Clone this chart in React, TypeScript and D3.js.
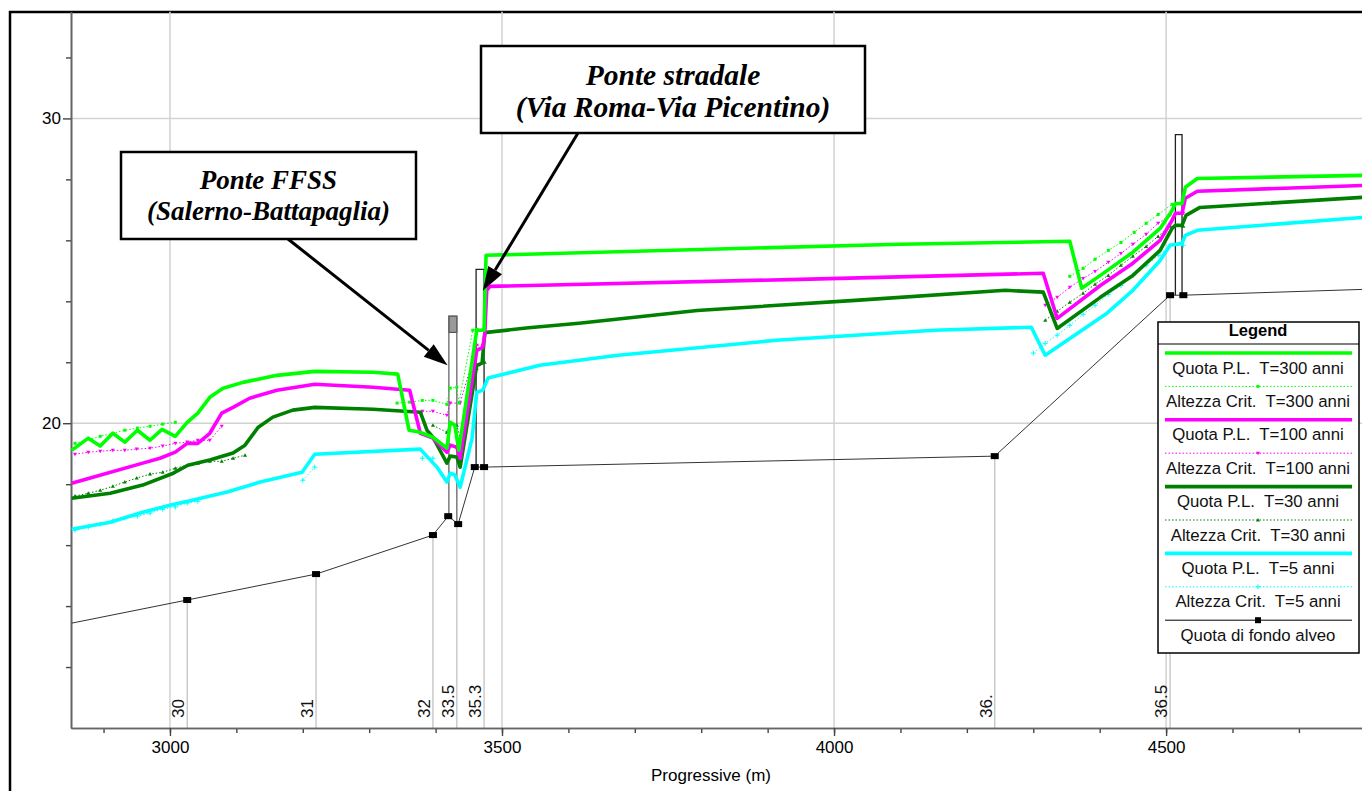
import React, { useEffect, useRef } from 'react'
import * as d3 from 'd3'

type P = [number, number]

const W = 1362
const H = 791

// Quota P.L. (water surface) per return period: [progressive m, quota m]
const quota300: P[] = [
  [2852, 19.11], [2877, 19.51], [2895, 19.25], [2914, 19.67], [2932, 19.38], [2951, 19.77], [2970, 19.44],
  [2988, 19.8], [3008, 19.57], [3026, 20.03], [3042, 20.33], [3060, 20.85], [3080, 21.15], [3110, 21.34],
  [3161, 21.57], [3218, 21.7], [3306, 21.67], [3343, 21.61], [3360, 19.77], [3377, 19.7], [3396, 19.54],
  [3417, 19.18], [3422, 20.03], [3429, 19.93], [3435, 19.11], [3462, 23.05], [3473, 23.05], [3476, 25.51],
  [3798, 25.7], [4099, 25.87], [4355, 25.97], [4373, 24.43], [4401, 24.85], [4450, 25.61], [4491, 26.39],
  [4509, 26.98], [4514, 27.21], [4524, 27.21], [4529, 27.74], [4547, 28.03], [4795, 28.13]
]
const quota100: P[] = [
  [2852, 18.03], [2884, 18.23], [2959, 18.69], [2985, 18.85], [3008, 19.05], [3026, 19.34], [3042, 19.34],
  [3060, 19.67], [3078, 20.33], [3095, 20.52], [3120, 20.82], [3161, 21.08], [3218, 21.28], [3306, 21.18],
  [3361, 21.08], [3377, 19.67], [3396, 19.51], [3417, 19.05], [3422, 19.28], [3432, 19.21], [3437, 18.85],
  [3462, 22.39], [3471, 22.49], [3474, 22.89], [3477, 24.36], [3482, 24.49], [3949, 24.72], [4315, 24.92],
  [4336, 23.44], [4401, 24.52], [4450, 25.25], [4491, 26.0], [4509, 26.66], [4514, 26.89], [4524, 26.89],
  [4529, 27.38], [4547, 27.61], [4795, 27.8]
]
const quota30: P[] = [
  [2852, 17.54], [2910, 17.7], [2959, 17.97], [3005, 18.36], [3027, 18.62], [3060, 18.79], [3095, 19.02],
  [3113, 19.28], [3133, 19.87], [3155, 20.2], [3185, 20.43], [3218, 20.52], [3306, 20.46], [3377, 20.36],
  [3387, 19.77], [3396, 19.54], [3417, 18.69], [3422, 18.92], [3432, 18.89], [3437, 18.56], [3462, 21.9],
  [3470, 21.97], [3474, 22.95], [3477, 22.98], [3540, 23.13], [3616, 23.28], [3794, 23.7], [4032, 24.03], [4258, 24.36],
  [4315, 24.3], [4336, 23.11], [4401, 24.13], [4450, 24.85], [4491, 25.67], [4509, 26.39], [4514, 26.49],
  [4524, 26.49], [4530, 26.82], [4551, 27.08], [4795, 27.41]
]
const quota5: P[] = [
  [2852, 16.52], [2910, 16.75], [2959, 17.08], [3000, 17.31], [3035, 17.48], [3086, 17.74], [3136, 18.07],
  [3199, 18.39], [3218, 18.98], [3377, 19.15], [3402, 18.56], [3417, 18.07], [3422, 18.36], [3429, 18.3],
  [3437, 17.9], [3455, 19.51], [3462, 21.02], [3471, 21.08], [3479, 21.48], [3557, 21.9], [3675, 22.23],
  [3913, 22.72], [4151, 23.05], [4297, 23.15], [4318, 22.23], [4411, 23.61], [4450, 24.36], [4491, 25.34],
  [4506, 25.84], [4524, 25.9], [4529, 26.16], [4547, 26.33], [4795, 26.75]
]

// Altezza Crit. (critical depth), only where computed - one array per reach
const crit300: P[][] = [
  [[2857, 19.34], [2895, 19.57], [2914, 19.67], [2932, 19.77], [2951, 19.84], [2970, 19.9], [2989, 19.97], [3008, 20.03]],
  [[3342, 20.66], [3361, 20.69], [3380, 20.75], [3396, 20.75], [3417, 20.62], [3422, 21.15], [3432, 21.18], [3435, 20.66], [3456, 23.05], [3462, 23.08], [3473, 23.08]],
  [[4355, 24.82], [4375, 25.08], [4393, 25.38], [4413, 25.67], [4432, 25.93], [4452, 26.26], [4470, 26.56], [4488, 26.85], [4509, 27.18], [4526, 27.21]]
]
const crit100: P[][] = [
  [[2857, 18.98], [2877, 19.05], [2895, 19.08], [2914, 19.11], [2932, 19.11], [2950, 19.15], [2970, 19.18], [2989, 19.25], [3008, 19.34], [3026, 19.38], [3042, 19.44], [3060, 19.44], [3078, 19.9]],
  [[3380, 20.39], [3396, 20.39], [3417, 20.26], [3422, 20.66], [3437, 20.66], [3462, 22.56], [3471, 22.56]],
  [[4318, 23.87], [4336, 24.13], [4355, 24.46], [4375, 24.75], [4393, 24.98], [4413, 25.28], [4432, 25.57], [4450, 25.87], [4470, 26.2], [4488, 26.56], [4506, 26.82], [4526, 26.89]]
]
const crit30: P[][] = [
  [[2857, 17.61], [2877, 17.7], [2895, 17.8], [2914, 17.93], [2932, 18.07], [2950, 18.2], [2970, 18.33], [2989, 18.39], [3008, 18.52], [3026, 18.62], [3042, 18.69], [3060, 18.75], [3078, 18.75], [3095, 18.85], [3113, 18.95]],
  [[3396, 19.93], [3417, 19.7], [3422, 20.0], [3432, 19.93], [3437, 19.54], [3462, 21.8], [3474, 22.0]],
  [[4318, 23.38], [4336, 23.67], [4355, 23.97], [4375, 24.26], [4393, 24.56], [4413, 24.85], [4432, 25.18], [4450, 25.48], [4470, 25.8], [4488, 26.13], [4506, 26.46], [4526, 26.46]]
]
const crit5: P[][] = [
  [[2857, 16.49], [2877, 16.59], [2895, 16.69], [2914, 16.79], [2932, 16.89], [2951, 16.95], [2970, 17.05], [2989, 17.18], [3008, 17.25], [3026, 17.38], [3042, 17.44]],
  [[3200, 18.13], [3218, 18.56]],
  [[3380, 18.85], [3396, 18.85]],
  [[4300, 22.3], [4318, 22.62], [4336, 22.89], [4355, 23.21], [4375, 23.57], [4393, 23.87], [4413, 24.23], [4432, 24.52], [4450, 24.85], [4470, 25.18], [4489, 25.51], [4506, 25.84], [4526, 25.84]]
]

// Quota di fondo alveo
const fondo: P[] = [
  [2852, 13.44], [3026, 14.2], [3220, 15.05], [3396, 16.33], [3419, 16.95], [3434, 16.69],
  [3459, 18.56], [3473, 18.56], [4242, 18.92], [4506, 24.2], [4526, 24.2], [4795, 24.39]
]

// river stations
const sectionNames = ['30', '31', '32', '33.5', '35.3', '36.', '36.5']
const sectionStations = [3026, 3220, 3396, 3432, 3473, 4242, 4506]

// bridges
const bridgeFrom = [3420, 3461, 4514]
const bridgeTo = [3432, 3473, 4524]
const bridgeTop = [23.51, 25.05, 29.47]
const bridgeDeck = [22.98, 25.05, 29.47]

const xMajor = [3000, 3500, 4000, 4500]
const yMajor = [20, 30]

const legendLabels = [
  'Quota P.L.  T=300 anni', 'Altezza Crit.  T=300 anni',
  'Quota P.L.  T=100 anni', 'Altezza Crit.  T=100 anni',
  'Quota P.L.  T=30 anni', 'Altezza Crit.  T=30 anni',
  'Quota P.L.  T=5 anni', 'Altezza Crit.  T=5 anni',
  'Quota di fondo alveo'
]

const GREEN = '#00ff00'
const MAGENTA = '#ff00ff'
const DKGREEN = '#008000'
const CYAN = '#00ffff'
const SANS = '"Liberation Sans", Arial, sans-serif'
const SERIF = '"Liberation Serif", "Times New Roman", serif'

function App() {
  const ref = useRef<SVGSVGElement>(null)

  useEffect(() => {
    const svg = d3.select(ref.current)
    svg.selectAll('*').remove()

    const x = d3.scaleLinear().domain([2851, 4795]).range([71, 1362])
    const y = d3.scaleLinear().domain([10, 33.5]).range([728, 11.75])
    const yBot = y(10)
    const yTop = y(33.5)

    // outer frame
    svg.append('rect')
      .attr('x', 10).attr('y', 12).attr('width', 1400).attr('height', 820)
      .attr('fill', '#fff').attr('stroke', '#000').attr('stroke-width', 2.5)

    // grid
    const grid = svg.append('g').attr('stroke', '#d2d2d2').attr('stroke-width', 1.5)
    xMajor.forEach(v => grid.append('line').attr('x1', x(v)).attr('x2', x(v)).attr('y1', yTop).attr('y2', yBot))
    yMajor.forEach(v => grid.append('line').attr('x1', x(2851)).attr('x2', W).attr('y1', y(v)).attr('y2', y(v)))

    // bed interpolation for section lines
    const bedAt = (m: number) => {
      const i = d3.bisector((d: P) => d[0]).left(fondo, m)
      if (i <= 0) return fondo[0][1]
      if (i >= fondo.length) return fondo[fondo.length - 1][1]
      const a = fondo[i - 1], b = fondo[i]
      return a[1] + (b[1] - a[1]) * (m - a[0]) / (b[0] - a[0])
    }

    const sec = svg.append('g')
    sectionStations.forEach((m, i) => {
      sec.append('line')
        .attr('x1', x(m)).attr('x2', x(m))
        .attr('y1', y(bedAt(m))).attr('y2', yBot)
        .attr('stroke', '#bdbdbd').attr('stroke-width', 1.2)
      sec.append('text')
        .attr('transform', `translate(${x(m) - 3},${yBot - 10}) rotate(-90)`)
        .attr('font-family', SANS).attr('font-size', 17)
        .attr('fill', '#111')
        .text(sectionNames[i])
    })

    // bridges
    const br = svg.append('g')
    bridgeFrom.forEach((m0, i) => {
      const m1 = bridgeTo[i]
      const x0 = x(m0), x1 = x(m1)
      const yt = y(bridgeTop[i])
      const yd = y(bridgeDeck[i])
      const b0 = y(bedAt(m0)), b1 = y(bedAt(m1))
      if (yd - yt > 1) {
        br.append('rect').attr('x', x0).attr('y', yt).attr('width', x1 - x0).attr('height', yd - yt)
          .attr('fill', '#9a9a9a').attr('stroke', '#555').attr('stroke-width', 1.2)
      }
      br.append('path')
        .attr('d', `M${x0},${b0}V${yt}H${x1}V${b1}`)
        .attr('fill', 'none').attr('stroke', i === 0 ? '#666' : '#222').attr('stroke-width', 1.3)
    })

    // axes
    const xMinor = d3.range(2900, 4800, 100)
    const axX = svg.append('g').attr('transform', `translate(0,${yBot})`)
    axX.call(d3.axisBottom(x).tickValues(xMinor).tickSize(5).tickSizeOuter(0).tickFormat(() => ''))
    axX.append('g').call(d3.axisBottom(x).tickValues(xMajor).tickSize(8).tickSizeOuter(0).tickPadding(5).tickFormat(d3.format('d')))
    axX.selectAll('.domain').attr('stroke', '#666').attr('stroke-width', 1.6)
    axX.selectAll('.tick line').attr('stroke', '#444').attr('stroke-width', 1.4)
    axX.selectAll('text').attr('font-family', SANS).attr('font-size', 17).attr('fill', '#000')

    const yMinor = d3.range(12, 34, 2).filter(v => !yMajor.includes(v))
    const axY = svg.append('g').attr('transform', `translate(${x(2851)},0)`)
    axY.call(d3.axisLeft(y).tickValues(yMinor).tickSize(5).tickSizeOuter(0).tickFormat(() => ''))
    axY.append('g').call(d3.axisLeft(y).tickValues(yMajor).tickSize(8).tickSizeOuter(0).tickPadding(2).tickFormat(d3.format('d')))
    axY.selectAll('.domain').attr('stroke', '#666').attr('stroke-width', 1.6)
    axY.selectAll('.tick line').attr('stroke', '#444').attr('stroke-width', 1.4)
    axY.selectAll('text').attr('font-family', SANS).attr('font-size', 17).attr('fill', '#000')

    svg.append('text')
      .attr('x', 711).attr('y', 781).attr('text-anchor', 'middle')
      .attr('font-family', SANS).attr('font-size', 17).attr('fill', '#000')
      .text('Progressive (m)')

    const line = d3.line<P>().x(d => x(d[0])).y(d => y(d[1]))

    // bed profile
    svg.append('path').attr('d', line(fondo)).attr('fill', 'none').attr('stroke', '#333').attr('stroke-width', 1)
    svg.selectAll('.bedmark').data(fondo.slice(1, -1)).enter().append('rect')
      .attr('x', d => x(d[0]) - 4).attr('y', d => y(d[1]) - 3)
      .attr('width', 8).attr('height', 6).attr('fill', '#000')

    // critical depth
    const markers: Record<string, (g: any, c: string) => void> = {
      square: (g, c) => g.append('rect').attr('x', -1.5).attr('y', -1.5).attr('width', 3).attr('height', 3).attr('fill', c),
      down: (g, c) => g.append('path').attr('d', 'M-2,-1.5L2,-1.5L0,2Z').attr('fill', c),
      up: (g, c) => g.append('path').attr('d', 'M-2,1.5L2,1.5L0,-2Z').attr('fill', c),
      plus: (g, c) => g.append('path').attr('d', 'M-2.5,0H2.5M0,-2.5V2.5').attr('stroke', c).attr('stroke-width', 1)
    }
    const drawCrit = (reaches: P[][], color: string, mk: string) => {
      const g = svg.append('g')
      reaches.forEach(r => {
        g.append('path').attr('d', line(r)).attr('fill', 'none')
          .attr('stroke', color).attr('stroke-width', 1).attr('stroke-dasharray', '1.5,2')
        r.forEach(d => markers[mk](g.append('g').attr('transform', `translate(${x(d[0])},${y(d[1])})`), color))
      })
    }
    drawCrit(crit5, CYAN, 'plus')
    drawCrit(crit30, DKGREEN, 'up')
    drawCrit(crit100, MAGENTA, 'down')
    drawCrit(crit300, GREEN, 'square')

    // water surfaces
    const ws: [P[], string][] = [[quota5, CYAN], [quota30, DKGREEN], [quota100, MAGENTA], [quota300, GREEN]]
    ws.forEach(([d, c]) => {
      svg.append('path').attr('d', line(d)).attr('fill', 'none')
        .attr('stroke', c).attr('stroke-width', 3.6).attr('stroke-linejoin', 'round')
    })

    // legend
    const lg = svg.append('g').attr('transform', 'translate(1158,322)')
    lg.append('rect').attr('width', 201).attr('height', 331).attr('fill', '#fff').attr('stroke', '#000').attr('stroke-width', 1.5)
    lg.append('line').attr('x1', 0).attr('x2', 201).attr('y1', 22).attr('y2', 22).attr('stroke', '#000').attr('stroke-width', 1.2)
    lg.append('text').attr('x', 100).attr('y', 14).attr('text-anchor', 'middle')
      .attr('font-family', SANS).attr('font-size', 16.5).attr('font-weight', 'bold').text('Legend')
    const lgColors = [GREEN, GREEN, MAGENTA, MAGENTA, DKGREEN, DKGREEN, CYAN, CYAN, '#000']
    const lgMarks = ['', 'square', '', 'down', '', 'up', '', 'plus', '']
    legendLabels.forEach((t, i) => {
      const ly = 31 + i * 33.4
      const solid = i % 2 === 0 && i < 8
      lg.append('line').attr('x1', 7).attr('x2', 194).attr('y1', ly).attr('y2', ly)
        .attr('stroke', lgColors[i])
        .attr('stroke-width', solid ? 3.6 : 1)
        .attr('stroke-dasharray', solid || i === 8 ? null : '1.5,2')
      if (lgMarks[i]) markers[lgMarks[i]](lg.append('g').attr('transform', `translate(100,${ly})`), lgColors[i])
      if (i === 8) lg.append('rect').attr('x', 97).attr('y', ly - 3).attr('width', 6).attr('height', 6).attr('fill', '#000')
      lg.append('text').attr('x', 100).attr('y', ly + 20.5).attr('text-anchor', 'middle')
        .attr('font-family', SANS).attr('font-size', 16.8).attr('fill', '#111')
        .style('white-space', 'pre').text(t)
    })

    // callouts
    const arrow = (x1: number, y1: number, x2: number, y2: number) => {
      const a = Math.atan2(y2 - y1, x2 - x1)
      const len = 24, hw = 8
      const bx = x2 - len * Math.cos(a), by = y2 - len * Math.sin(a)
      svg.append('line').attr('x1', x1).attr('y1', y1).attr('x2', bx).attr('y2', by)
        .attr('stroke', '#000').attr('stroke-width', 3)
      svg.append('path')
        .attr('d', `M${x2},${y2}L${bx + hw * Math.sin(a)},${by - hw * Math.cos(a)}L${bx - hw * Math.sin(a)},${by + hw * Math.cos(a)}Z`)
        .attr('fill', '#000')
    }
    const callout = (bx: number, by: number, bw: number, bh: number, lines: string[], base: number[], fs: number) => {
      svg.append('rect').attr('x', bx).attr('y', by).attr('width', bw).attr('height', bh)
        .attr('fill', '#fff').attr('stroke', '#000').attr('stroke-width', 2.5)
      lines.forEach((t, i) => svg.append('text')
        .attr('x', bx + bw / 2).attr('y', by + base[i]).attr('text-anchor', 'middle')
        .attr('font-family', SERIF).attr('font-size', fs).attr('font-weight', 'bold').attr('font-style', 'italic')
        .attr('fill', '#000').text(t))
    }
    arrow(288, 239, x(3418), y(21.9))
    callout(121, 152, 295, 87, ['Ponte FFSS', '(Salerno-Battapaglia)'], [37, 68], 27)
    arrow(578, 133, x(3471), y(24.35))
    callout(481, 46, 384, 87, ['Ponte stradale', '(Via Roma-Via Picentino)'], [39, 71], 29.5)
  }, [])

  return (
    <div style={{ position: 'absolute', left: 0, top: 0 }}>
      <svg ref={ref} width={W} height={H} style={{ display: 'block', background: '#fff' }} />
    </div>
  )
}

export default App
